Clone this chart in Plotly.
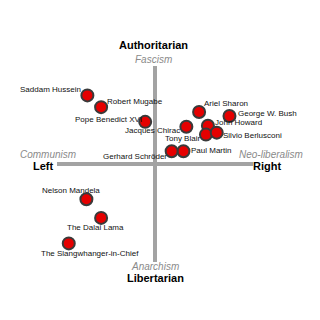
import plotly.graph_objects as go

# Political compass data: economic (left -/right +), social (libertarian -/authoritarian +)
names = ["Saddam Hussein", "Robert Mugabe", "Pope Benedict XVI", "Jacques Chirac",
         "Ariel Sharon", "George W. Bush", "John Howard", "Tony Blair",
         "Silvio Berlusconi", "Paul Martin", "Gerhard Schröder", "Nelson Mandela",
         "The Dalai Lama", "The Slangwhanger-in-Chief"]
economic = [-6.9, -5.5, -1.0, 3.2, 4.5, 7.6, 5.4, 5.2, 6.3, 2.9, 1.7, -7.0, -5.5, -8.8]
social = [7.0, 5.8, 4.3, 3.8, 5.3, 4.9, 3.9, 3.0, 3.2, 1.3, 1.3, -3.6, -5.5, -8.1]

axis_limit = 10
axis_titles = {"top": ("Authoritarian", "Fascism"), "bottom": ("Libertarian", "Anarchism"),
               "left": ("Left", "Communism"), "right": ("Right", "Neo-liberalism")}

# label placement: (xanchor, xshift, yshift)
label_pos = [("right", -5, 6), ("left", 5, 6), ("right", -2, 2), ("right", -5, -4),
             ("left", 4, 9), ("left", 8, 2), ("left", 6, 3), ("right", -5, -4),
             ("left", 5, -3), ("left", 7, 1), ("right", -4, -5), ("center", -15, 9),
             ("center", -6, -10), ("center", 21, -10)]

PX = 9.8
CX, CY = 155, 164
xr = [-CX / PX, (320 - CX) / PX]
yr = [-(320 - CY) / PX, CY / PX]

fig = go.Figure()
line_style = dict(color="#a3a3a3", width=4)
fig.add_trace(go.Scatter(x=[-axis_limit, axis_limit], y=[0, 0], mode="lines", line=line_style,
                         hoverinfo="skip", showlegend=False))
fig.add_trace(go.Scatter(x=[0, 0], y=[-axis_limit, axis_limit], mode="lines", line=line_style,
                         hoverinfo="skip", showlegend=False))
fig.add_trace(go.Scatter(x=economic, y=social, mode="markers", text=names,
                         marker=dict(size=12, color="#e50000", line=dict(color="#3a3a3a", width=2)),
                         showlegend=False))

lab_font = dict(family="Liberation Sans", size=8, color="#111")
for n, ex, so, (xa, xs, ys) in zip(names, economic, social, label_pos):
    fig.add_annotation(x=ex, y=so, text=n, showarrow=False, xanchor=xa, yanchor="middle",
                       xshift=xs, yshift=ys, font=lab_font, borderpad=0)

bold = dict(family="Liberation Sans", size=11, color="#000")
ital = dict(family="Liberation Sans", size=10, color="#8a8a8a")
common = dict(showarrow=False, borderpad=0)

t, s = axis_titles["top"]
fig.add_annotation(x=0, y=axis_limit, text=f"<b>{t}</b>", yshift=21, xshift=-2, font=bold, **common)
fig.add_annotation(x=0, y=axis_limit, text=f"<i>{s}</i>", yshift=7, xshift=-2, font=ital, **common)
t, s = axis_titles["bottom"]
fig.add_annotation(x=0, y=-axis_limit, text=f"<b>{t}</b>", yshift=-16, font=bold, **common)
fig.add_annotation(x=0, y=-axis_limit, text=f"<i>{s}</i>", yshift=-4, font=ital, **common)
t, s = axis_titles["left"]
fig.add_annotation(x=-axis_limit, y=0, text=f"<b>{t}</b>", xshift=-14, yshift=-2, font=bold, **common)
fig.add_annotation(x=-axis_limit, y=0, text=f"<i>{s}</i>", xshift=-9, yshift=10, font=ital, **common)
t, s = axis_titles["right"]
fig.add_annotation(x=axis_limit, y=0, text=f"<b>{t}</b>", xshift=14, yshift=-2, font=bold, **common)
fig.add_annotation(x=axis_limit, y=0, text=f"<i>{s}</i>", xshift=18, yshift=10, font=ital, **common)

fig.update_xaxes(range=xr, visible=False, fixedrange=True)
fig.update_yaxes(range=yr, visible=False, fixedrange=True)
fig.update_layout(width=320, height=320, margin=dict(l=0, r=0, t=0, b=0),
                  paper_bgcolor="white", plot_bgcolor="white")
fig.write_html("out.html")
